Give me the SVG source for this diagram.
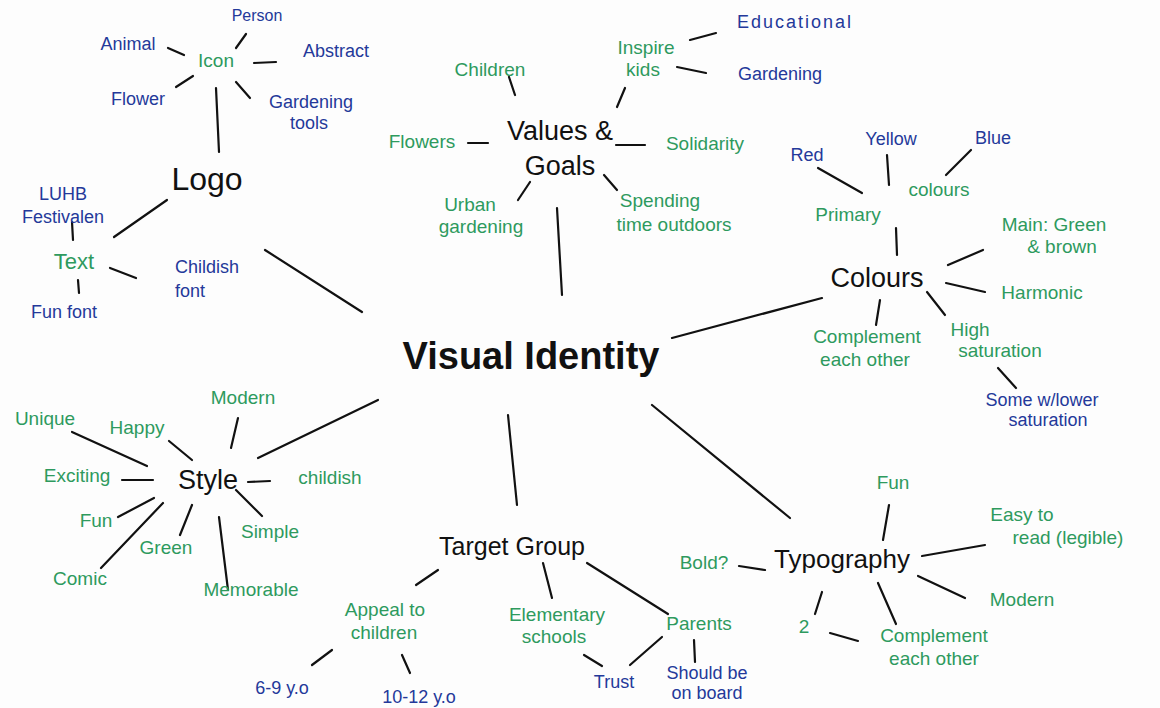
<svg xmlns="http://www.w3.org/2000/svg" width="1160" height="708" viewBox="0 0 1160 708">
<style>
text{font-family:"Liberation Sans",Arial,sans-serif;text-anchor:middle}
.c{fill:#111;font-size:38px;font-weight:bold}
.m{fill:#111;font-size:27px}
.g{fill:#2e9a5e;font-size:19px}
.b{fill:#24399a;font-size:18px}
.k line{stroke:#111;stroke-width:2.2;stroke-linecap:round}
</style>
<rect width="1160" height="708" fill="#fdfdfd"/>
<g class="k" id="connectors">
<line x1="265" y1="250" x2="362" y2="312"/>
<line x1="557" y1="208" x2="562" y2="295"/>
<line x1="672" y1="338" x2="822" y2="298"/>
<line x1="258" y1="458" x2="378" y2="400"/>
<line x1="508" y1="415" x2="517" y2="505"/>
<line x1="652" y1="405" x2="790" y2="518"/>
<line x1="216" y1="88" x2="219" y2="152"/>
<line x1="246" y1="34" x2="236" y2="48"/>
<line x1="168" y1="48" x2="184" y2="55"/>
<line x1="254" y1="63" x2="276" y2="62"/>
<line x1="176" y1="87" x2="193" y2="76"/>
<line x1="236" y1="82" x2="250" y2="98"/>
<line x1="114" y1="237" x2="167" y2="200"/>
<line x1="72" y1="222" x2="73" y2="240"/>
<line x1="78" y1="280" x2="79" y2="293"/>
<line x1="110" y1="268" x2="136" y2="278"/>
<line x1="509" y1="77" x2="515" y2="95"/>
<line x1="617" y1="107" x2="625" y2="88"/>
<line x1="690" y1="40" x2="716" y2="33"/>
<line x1="677" y1="67" x2="706" y2="73"/>
<line x1="468" y1="143" x2="488" y2="143"/>
<line x1="616" y1="145" x2="645" y2="145"/>
<line x1="518" y1="200" x2="530" y2="182"/>
<line x1="604" y1="175" x2="617" y2="190"/>
<line x1="896" y1="228" x2="897" y2="255"/>
<line x1="818" y1="168" x2="862" y2="193"/>
<line x1="887" y1="155" x2="889" y2="185"/>
<line x1="971" y1="150" x2="946" y2="175"/>
<line x1="948" y1="265" x2="983" y2="250"/>
<line x1="946" y1="283" x2="985" y2="292"/>
<line x1="880" y1="300" x2="876" y2="325"/>
<line x1="927" y1="292" x2="945" y2="315"/>
<line x1="998" y1="368" x2="1016" y2="388"/>
<line x1="238" y1="418" x2="231" y2="448"/>
<line x1="72" y1="432" x2="147" y2="466"/>
<line x1="169" y1="441" x2="192" y2="460"/>
<line x1="122" y1="480" x2="153" y2="480"/>
<line x1="248" y1="482" x2="270" y2="481"/>
<line x1="118" y1="517" x2="154" y2="498"/>
<line x1="180" y1="535" x2="192" y2="505"/>
<line x1="236" y1="490" x2="262" y2="516"/>
<line x1="101" y1="568" x2="163" y2="503"/>
<line x1="219" y1="517" x2="228" y2="590"/>
<line x1="416" y1="585" x2="438" y2="570"/>
<line x1="312" y1="665" x2="332" y2="650"/>
<line x1="402" y1="655" x2="410" y2="673"/>
<line x1="543" y1="563" x2="552" y2="598"/>
<line x1="584" y1="655" x2="602" y2="666"/>
<line x1="587" y1="563" x2="668" y2="614"/>
<line x1="630" y1="665" x2="662" y2="637"/>
<line x1="694" y1="640" x2="695" y2="662"/>
<line x1="739" y1="566" x2="765" y2="570"/>
<line x1="889" y1="505" x2="883" y2="540"/>
<line x1="922" y1="556" x2="985" y2="545"/>
<line x1="918" y1="576" x2="965" y2="598"/>
<line x1="822" y1="592" x2="815" y2="614"/>
<line x1="878" y1="583" x2="896" y2="624"/>
<line x1="830" y1="633" x2="858" y2="641"/>
</g>
<g id="visual-identity"><text class="c" x="531" y="369">Visual Identity</text></g>
<g id="logo"><text class="m" x="207" y="190" style="font-size:32px">Logo</text></g>
<g id="icon"><text class="g" x="216" y="67">Icon</text></g>
<g id="person"><text class="b" x="257" y="21" style="font-size:16px">Person</text></g>
<g id="animal"><text class="b" x="128" y="50">Animal</text></g>
<g id="abstract"><text class="b" x="336" y="57">Abstract</text></g>
<g id="flower"><text class="b" x="138" y="105">Flower</text></g>
<g id="gardening-tools"><text class="b" x="311" y="108">Gardening</text><text class="b" x="309" y="129">tools</text></g>
<g id="text"><text class="g" x="74" y="269" style="font-size:22px">Text</text></g>
<g id="luhb"><text class="b" x="63" y="200">LUHB</text><text class="b" x="63" y="223">Festivalen</text></g>
<g id="fun-font"><text class="b" x="64" y="318">Fun font</text></g>
<g id="childish-font"><text class="b" x="207" y="273">Childish</text><text class="b" x="190" y="297">font</text></g>
<g id="values-goals"><text class="m" x="560" y="140">Values &amp;</text><text class="m" x="560" y="175">Goals</text></g>
<g id="children"><text class="g" x="490" y="76">Children</text></g>
<g id="inspire-kids"><text class="g" x="646" y="54">Inspire</text><text class="g" x="643" y="76">kids</text></g>
<g id="educational"><text class="b" x="795" y="28" style="letter-spacing:2px">Educational</text></g>
<g id="gardening"><text class="b" x="780" y="80">Gardening</text></g>
<g id="flowers"><text class="g" x="422" y="148">Flowers</text></g>
<g id="solidarity"><text class="g" x="705" y="150">Solidarity</text></g>
<g id="urban-gardening"><text class="g" x="470" y="211">Urban</text><text class="g" x="481" y="233">gardening</text></g>
<g id="spending"><text class="g" x="660" y="207">Spending</text><text class="g" x="674" y="231">time outdoors</text></g>
<g id="colours"><text class="m" x="877" y="287">Colours</text></g>
<g id="primary-colours"><text class="g" x="848" y="221">Primary</text><text class="g" x="939" y="196">colours</text></g>
<g id="red"><text class="b" x="807" y="161">Red</text></g>
<g id="yellow"><text class="b" x="891" y="145">Yellow</text></g>
<g id="blue"><text class="b" x="993" y="144">Blue</text></g>
<g id="main-green-brown"><text class="g" x="1054" y="231">Main: Green</text><text class="g" x="1062" y="253">&amp; brown</text></g>
<g id="harmonic"><text class="g" x="1042" y="299">Harmonic</text></g>
<g id="complement-colours"><text class="g" x="867" y="343">Complement</text><text class="g" x="865" y="366">each other</text></g>
<g id="high-saturation"><text class="g" x="970" y="336">High</text><text class="g" x="1000" y="357">saturation</text></g>
<g id="lower-saturation"><text class="b" x="1042" y="406">Some w/lower</text><text class="b" x="1048" y="426">saturation</text></g>
<g id="style"><text class="m" x="208" y="489">Style</text></g>
<g id="modern-style"><text class="g" x="243" y="404">Modern</text></g>
<g id="unique"><text class="g" x="45" y="425">Unique</text></g>
<g id="happy"><text class="g" x="137" y="434">Happy</text></g>
<g id="exciting"><text class="g" x="77" y="482">Exciting</text></g>
<g id="childish"><text class="g" x="330" y="484">childish</text></g>
<g id="fun-style"><text class="g" x="96" y="527">Fun</text></g>
<g id="green"><text class="g" x="166" y="554">Green</text></g>
<g id="simple"><text class="g" x="270" y="538">Simple</text></g>
<g id="comic"><text class="g" x="80" y="585">Comic</text></g>
<g id="memorable"><text class="g" x="251" y="596">Memorable</text></g>
<g id="target-group"><text class="m" x="512" y="555" style="font-size:25px">Target Group</text></g>
<g id="appeal"><text class="g" x="385" y="616">Appeal to</text><text class="g" x="384" y="639">children</text></g>
<g id="age-6-9"><text class="b" x="282" y="694">6-9 y.o</text></g>
<g id="age-10-12"><text class="b" x="419" y="703">10-12 y.o</text></g>
<g id="elementary"><text class="g" x="557" y="621">Elementary</text><text class="g" x="554" y="643">schools</text></g>
<g id="trust"><text class="b" x="614" y="688">Trust</text></g>
<g id="parents"><text class="g" x="699" y="630">Parents</text></g>
<g id="on-board"><text class="b" x="707" y="679">Should be</text><text class="b" x="707" y="699">on board</text></g>
<g id="typography"><text class="m" x="842" y="568" style="font-size:26px">Typography</text></g>
<g id="bold"><text class="g" x="704" y="569">Bold?</text></g>
<g id="fun-typo"><text class="g" x="893" y="489">Fun</text></g>
<g id="easy-read"><text class="g" x="1022" y="521">Easy to</text><text class="g" x="1068" y="544">read (legible)</text></g>
<g id="modern-typo"><text class="g" x="1022" y="606">Modern</text></g>
<g id="two"><text class="g" x="804" y="633">2</text></g>
<g id="complement-typo"><text class="g" x="934" y="642">Complement</text><text class="g" x="934" y="665">each other</text></g>
</svg>
